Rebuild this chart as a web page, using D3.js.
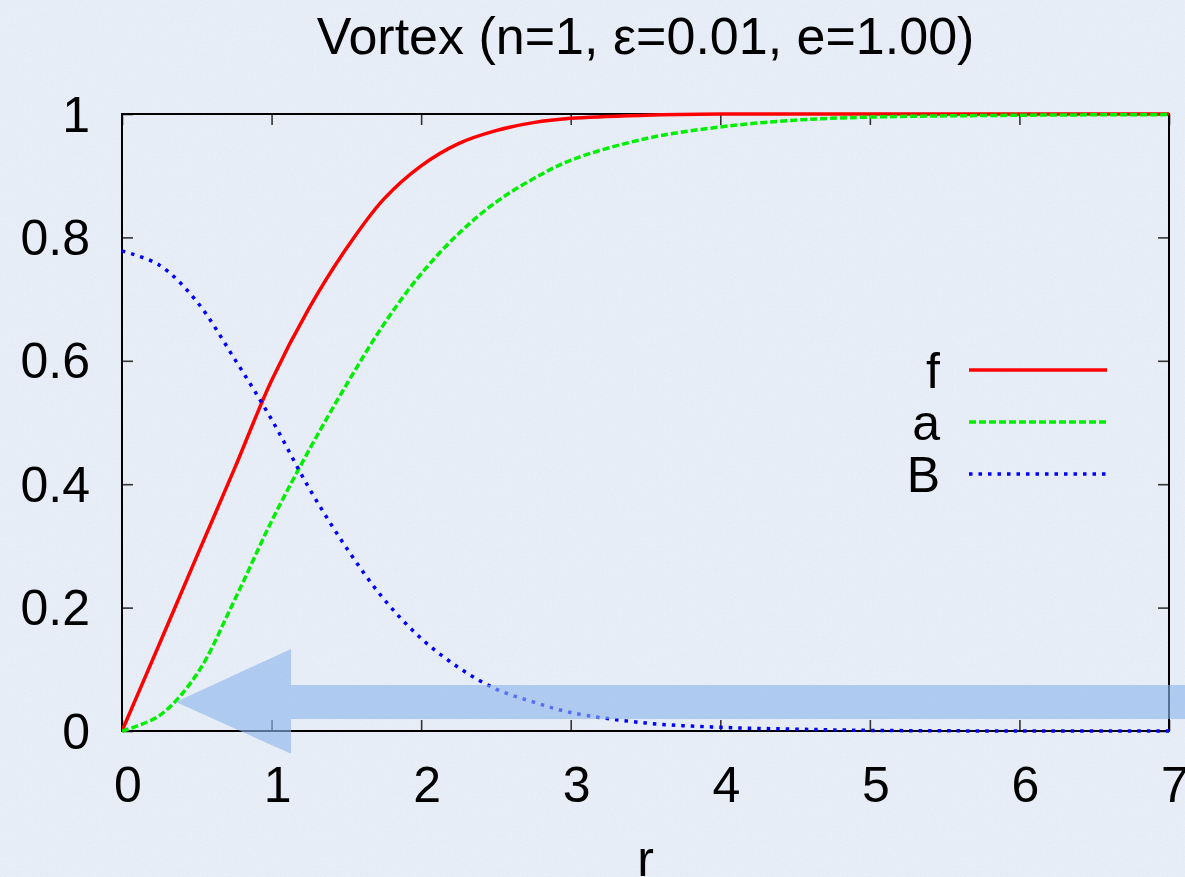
<!DOCTYPE html>
<html>
<head>
<meta charset="utf-8">
<script src="https://cdn.jsdelivr.net/npm/d3@7"></script>
<style>
html,body{margin:0;padding:0;background:#e7edf6;}
svg{display:block;}
text{font-family:"Liberation Sans",Arial,Helvetica,sans-serif;fill:#000;}
</style>
</head>
<body>
<div id="chart"></div>
<script>
// ---- data ----
const title = "Vortex (n=1, \u03b5=0.01, e=1.00)";
const xLabel = "r";
const xTicks = [0,1,2,3,4,5,6,7];
const yTicks = [0,0.2,0.4,0.6,0.8,1];
const yTickLabels = ["0","0.2","0.4","0.6","0.8","1"];
const seriesNames = ["f","a","B"];
const seriesColors = ["#ff0000","#00ee00","#0000ff"];

const rF = [0,0.25,0.5,0.75,1.0,1.25,1.5,1.75,2.0,2.25,2.5,2.75,3.0,3.5,4.0,5.0,6.0,7.0];
const fVals = [0,0.141,0.283,0.424,0.568,0.685,0.782,0.862,0.916,0.952,0.973,0.986,0.993,0.998,1.0,1.0,1.0,1.0];

const rA = [0,0.25,0.5,0.75,1.0,1.25,1.5,1.75,2.0,2.25,2.5,2.75,3.0,3.5,4.0,4.5,5.0,6.0,7.0];
const aVals = [0,0.025,0.092,0.211,0.340,0.455,0.561,0.659,0.741,0.806,0.857,0.895,0.925,0.960,0.979,0.990,0.995,0.998,0.999];

const rB = [0,0.25,0.5,0.75,1.0,1.25,1.5,1.75,2.0,2.25,2.5,2.75,3.0,3.5,4.0,4.5,5.0,6.0,7.0];
const bVals = [0.778,0.755,0.696,0.604,0.505,0.394,0.297,0.214,0.150,0.103,0.068,0.047,0.030,0.013,0.006,0.003,0.001,0.0,0.0];

// arrow annotation, in data units (r, value)
const arrowTip = [0.36, 0.047];
const arrowHeadBaseR = 1.13;
const arrowHeadHalf = [0.133, -0.037];
const arrowShaft = [0.0745, 0.0195];
const arrowEndR = 7.12;

// ---- layout ----
const W = 1185, H = 877;
const m = {left:122, top:114, right:W-1169, bottom:H-731};
const svg = d3.select("#chart").append("svg").attr("width",W).attr("height",H);

// background with subtle paper texture
const defs = svg.append("defs");
const filt = defs.append("filter").attr("id","noise").attr("x",0).attr("y",0).attr("width","100%").attr("height","100%");
filt.append("feTurbulence").attr("type","fractalNoise").attr("baseFrequency","0.8").attr("numOctaves",3).attr("seed",5).attr("result","n");
filt.append("feColorMatrix").attr("type","matrix")
  .attr("values","0 0 0 0 0.6  0 0 0 0 0.65  0 0 0 0 0.75  0 0 0 -1.1 0.62");
svg.append("rect").attr("width",W).attr("height",H).attr("fill","#e8eef7");
svg.append("rect").attr("width",W).attr("height",H).attr("filter","url(#noise)").attr("opacity",0.4);

const x = d3.scaleLinear().domain([0,7]).range([m.left, W-m.right]);
const y = d3.scaleLinear().domain([0,1]).range([H-m.bottom, m.top]);

const g = svg.append("g");
defs.append("clipPath").attr("id","plotclip").append("rect")
  .attr("x",x(0)).attr("y",y(1)-3).attr("width",x(7)-x(0)).attr("height",y(0)-y(1)+6);

// ticks (mirror, inward)
const tickLen = 11;
const axB = d3.axisBottom(x).tickValues(xTicks).tickSize(-tickLen).tickFormat("");
const axT = d3.axisTop(x).tickValues(xTicks).tickSize(-tickLen).tickFormat("");
const axL = d3.axisLeft(y).tickValues(yTicks).tickSize(-tickLen).tickFormat("");
const axR = d3.axisRight(y).tickValues(yTicks).tickSize(-tickLen).tickFormat("");
[[axB,`translate(0,${y(0)})`],[axT,`translate(0,${y(1)})`],[axL,`translate(${x(0)},0)`],[axR,`translate(${x(7)},0)`]]
 .forEach(([ax,tr])=>{
   const a = g.append("g").attr("transform",tr).call(ax);
   a.select(".domain").remove();
   a.selectAll(".tick line").attr("stroke","#333").attr("stroke-width",1.6);
 });

// frame
g.append("rect").attr("x",x(0)).attr("y",y(1)).attr("width",x(7)-x(0)).attr("height",y(0)-y(1))
  .attr("fill","none").attr("stroke","#000").attr("stroke-width",2);

// tick labels
g.selectAll(".xl").data(xTicks).enter().append("text")
  .attr("x",d=>x(d)+6).attr("y",802).attr("text-anchor","middle").attr("font-size",50).text(d=>d);
g.selectAll(".yl").data(yTicks).enter().append("text")
  .attr("x",90).attr("y",d=>y(d)+17.5).attr("text-anchor","end").attr("font-size",50).text((d,i)=>yTickLabels[i]);

// title & axis label
svg.append("text").attr("x",(x(0)+x(7))/2).attr("y",54).attr("text-anchor","middle").attr("font-size",52).text(title);
svg.append("text").attr("x",(x(0)+x(7))/2).attr("y",876).attr("text-anchor","middle").attr("font-size",50).text(xLabel);

// curves
const series = [
  {name:seriesNames[0], r:rF, v:fVals, color:seriesColors[0], dash:null},
  {name:seriesNames[1], r:rA, v:aVals, color:seriesColors[1], dash:"7,3"},
  {name:seriesNames[2], r:rB, v:bVals, color:seriesColors[2], dash:"3.5,6"}
];
const line = d3.line().x(d=>x(d[0])).y(d=>y(d[1])).curve(d3.curveCatmullRom.alpha(0.5));
const cg = g.append("g").attr("clip-path","url(#plotclip)");
series.forEach(s=>{
  cg.append("path").datum(s.r.map((r,i)=>[r,s.v[i]]))
    .attr("d",line).attr("fill","none").attr("stroke",s.color).attr("stroke-width",3.5)
    .attr("stroke-dasharray",s.dash);
});

// legend
const legY = [370,422,474];
series.forEach((s,i)=>{
  g.append("text").attr("x",940).attr("y",legY[i]+18).attr("text-anchor","end").attr("font-size",50).text(s.name);
  g.append("line").attr("x1",969).attr("x2",1107).attr("y1",legY[i]).attr("y2",legY[i])
    .attr("stroke",s.color).attr("stroke-width",3.5).attr("stroke-dasharray",s.dash);
});

// arrow annotation
const arrowPts = [
  [arrowTip[0], arrowTip[1]],
  [arrowHeadBaseR, arrowHeadHalf[0]],
  [arrowHeadBaseR, arrowShaft[0]],
  [arrowEndR, arrowShaft[0]],
  [arrowEndR, arrowShaft[1]],
  [arrowHeadBaseR, arrowShaft[1]],
  [arrowHeadBaseR, arrowHeadHalf[1]]
];
svg.append("path").attr("d", d3.line().x(d=>x(d[0])).y(d=>y(d[1]))(arrowPts)+"Z")
  .attr("fill","#8db4ec").attr("fill-opacity",0.62);
</script>
</body>
</html>
